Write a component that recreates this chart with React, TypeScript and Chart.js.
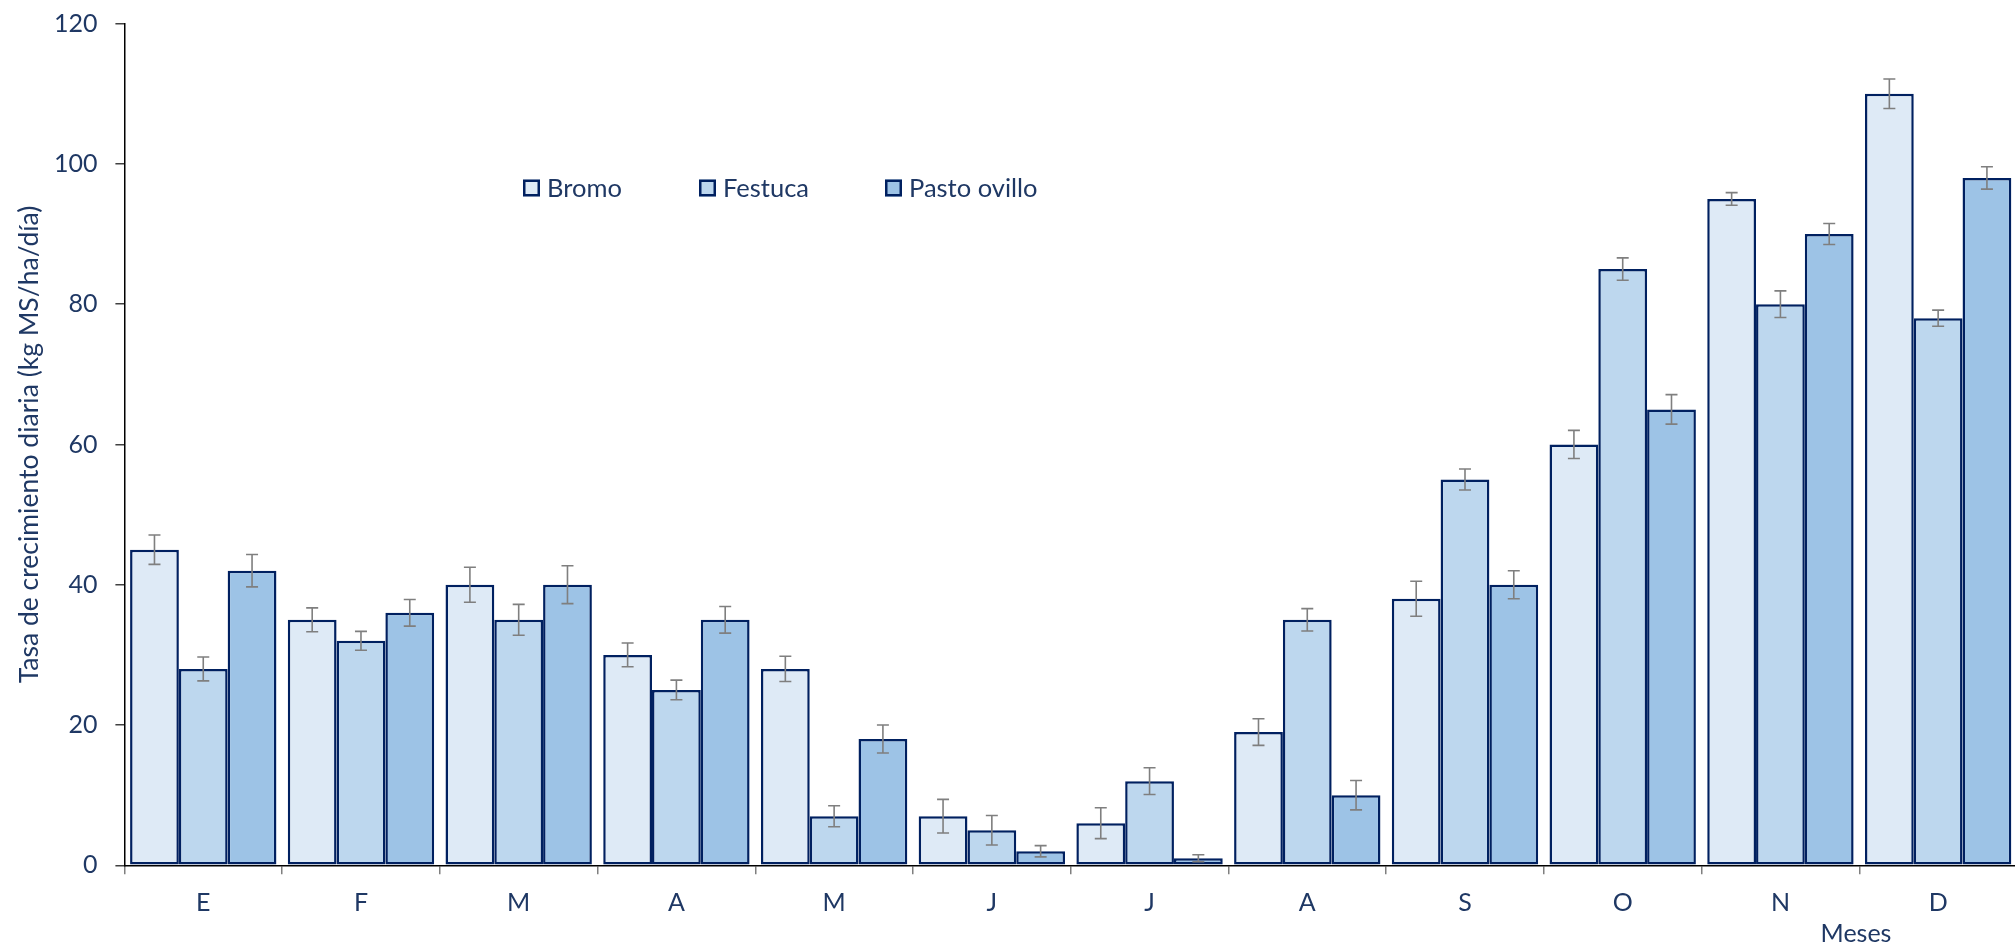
import React, { useEffect, useRef } from "react";
import { Chart, registerables } from "chart.js";

Chart.register(...registerables);

const months = ["E", "F", "M", "A", "M", "J", "J", "A", "S", "O", "N", "D"];
const seriesNames = ["Bromo", "Festuca", "Pasto ovillo"];
const bromo = [45, 35, 40, 30, 28, 7, 6, 19, 38, 60, 95, 110];
const festuca = [28, 32, 35, 25, 7, 5, 12, 35, 55, 85, 80, 78];
const pastoOvillo = [42, 36, 40, 35, 18, 2, 1, 10, 40, 65, 90, 98];
const bromoErr = [2.1, 1.7, 2.5, 1.7, 1.8, 2.4, 2.2, 1.9, 2.5, 2.0, 0.9, 2.1];
const festucaErr = [1.7, 1.35, 2.2, 1.4, 1.5, 2.1, 1.9, 1.6, 1.5, 1.6, 1.9, 1.15];
const pastoOvilloErr = [2.3, 1.9, 2.7, 1.9, 2.0, 0.8, 0.5, 2.1, 2.0, 2.1, 1.5, 1.6];
const yTicks = [0, 20, 40, 60, 80, 100, 120];
const yTitle = "Tasa de crecimiento diaria (kg MS/ha/día)";
const xTitle = "Meses";

const fills = ["#DEEAF6", "#BDD7EE", "#9DC3E6"];
const BORDER = "#002060";
const TEXT = "#1f3864";
const FONT = "Lato";
const WEIGHT = "400";

const errors = [bromoErr, festucaErr, pastoOvilloErr];
const legendBoxX = [523, 699, 885];

const errorBarPlugin = {
  id: "errorBars",
  afterDatasetsDraw(chart: any) {
    const ctx = chart.ctx;
    const yScale = chart.scales.y;
    ctx.save();
    ctx.strokeStyle = "#7f7f7f";
    ctx.lineWidth = 1.6;
    chart.data.datasets.forEach((ds: any, i: number) => {
      const meta = chart.getDatasetMeta(i);
      meta.data.forEach((bar: any, j: number) => {
        const v = ds.data[j];
        const e = errors[i][j];
        const x = bar.x;
        const yT = yScale.getPixelForValue(v + e);
        const yB = yScale.getPixelForValue(v - e);
        ctx.beginPath();
        ctx.moveTo(x, yT);
        ctx.lineTo(x, yB);
        ctx.moveTo(x - 6, yT);
        ctx.lineTo(x + 6, yT);
        ctx.moveTo(x - 6, yB);
        ctx.lineTo(x + 6, yB);
        ctx.stroke();
      });
    });
    ctx.restore();
  },
};

const legendPlugin = {
  id: "customLegend",
  afterDraw(chart: any) {
    const ctx = chart.ctx;
    ctx.save();
    ctx.font = `${WEIGHT} 25.5px ${FONT}`;
    ctx.textBaseline = "middle";
    ctx.textAlign = "left";
    const yc = 188;
    const box = 17;
    seriesNames.forEach((name, i) => {
      const x = legendBoxX[i];
      ctx.fillStyle = fills[i];
      ctx.fillRect(x, yc - box / 2, box, box);
      ctx.strokeStyle = BORDER;
      ctx.lineWidth = 2.5;
      ctx.strokeRect(x + 1.25, yc - box / 2 + 1.25, box - 2.5, box - 2.5);
      ctx.fillStyle = TEXT;
      ctx.fillText(name, x + box + 7, yc + 1);
    });
    // x axis title
    ctx.font = `${WEIGHT} 25px ${FONT}`;
    ctx.textAlign = "center";
    ctx.fillStyle = TEXT;
    ctx.fillText(xTitle, 1856, 934);
    ctx.restore();
  },
};

export default function App() {
  const ref = useRef<HTMLCanvasElement>(null);
  useEffect(() => {
    document.body.style.margin = "0";
    document.body.style.overflow = "hidden";
    document.documentElement.style.overflow = "hidden";
    const canvas = ref.current!;
    const chart = new Chart(canvas, {
      type: "bar",
      data: {
        labels: months,
        datasets: [bromo, festuca, pastoOvillo].map((d, i) => ({
          label: seriesNames[i],
          data: d,
          backgroundColor: fills[i],
          borderColor: BORDER,
          borderWidth: 2.5,
          borderSkipped: false,
          categoryPercentage: 0.928,
          barPercentage: 1.0,
        })),
      },
      options: {
        responsive: false,
        animation: false,
        devicePixelRatio: 1,
        layout: { padding: { top: 23.6, right: 3, left: 0, bottom: 0 } },
        plugins: {
          legend: { display: false },
          tooltip: { enabled: false },
        },
        scales: {
          x: {
            offset: true,
            grid: {
              display: true,
              offset: true,
              drawOnChartArea: false,
              drawTicks: true,
              tickLength: 9,
              color: "#7f7f7f",
              lineWidth: 1.5,
            },
            border: { display: true, color: "#000000", width: 1.5 },
            ticks: {
              color: TEXT,
              font: { family: FONT, size: 25, weight: WEIGHT },
              padding: 14,
              maxRotation: 0,
              autoSkip: false,
            },
            afterFit(scale: any) {
              scale.height = 81.7;
              scale.paddingLeft = 0;
              scale.paddingRight = 0;
            },
          },
          y: {
            min: 0,
            max: 120,
            afterBuildTicks(scale: any) {
              scale.ticks = yTicks.map((v) => ({ value: v }));
            },
            grid: {
              display: true,
              drawOnChartArea: false,
              drawTicks: true,
              tickLength: 9,
              color: "#404040",
              lineWidth: 1.5,
            },
            border: { display: true, color: "#000000", width: 1.5 },
            ticks: {
              color: TEXT,
              font: { family: FONT, size: 25, weight: WEIGHT },
              padding: 18,
            },
            title: {
              display: true,
              text: yTitle,
              color: TEXT,
              font: { family: FONT, size: 26.5, weight: WEIGHT },
              padding: { top: 14, bottom: 0 },
            },
            afterFit(scale: any) {
              scale.width = 124.4;
              scale.paddingTop = 0;
              scale.paddingBottom = 0;
            },
          },
        },
      },
      plugins: [errorBarPlugin, legendPlugin],
    });
    return () => chart.destroy();
  }, []);
  return (
    <canvas
      ref={ref}
      width={2020}
      height={947}
      style={{ display: "block", width: "2020px", height: "947px" }}
    />
  );
}
